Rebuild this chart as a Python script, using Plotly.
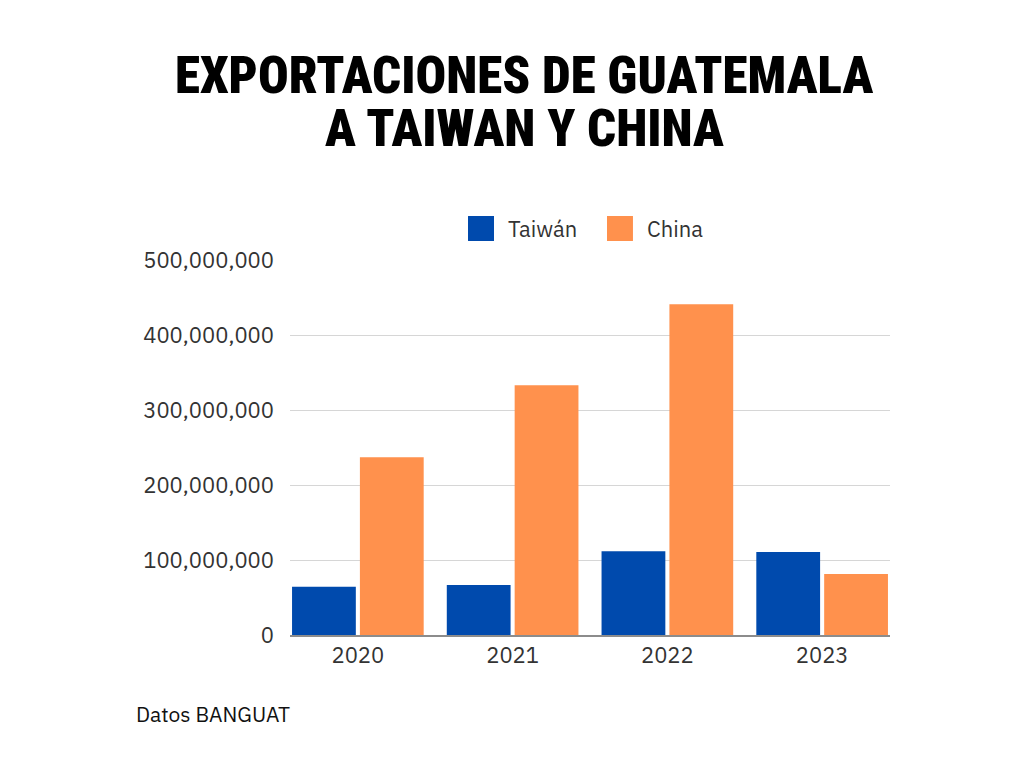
import plotly.graph_objects as go

# Exportaciones de Guatemala (USD)
years = ["2020", "2021", "2022", "2023"]
series_names = ["Taiwán", "China"]
taiwan = [64_500_000, 66_700_000, 111_600_000, 110_700_000]
china = [236_900_000, 333_000_000, 440_900_000, 81_300_000]
y_ticks = [0, 100_000_000, 200_000_000, 300_000_000, 400_000_000, 500_000_000]
y_tick_labels = ["0", "100,000,000", "200,000,000", "300,000,000", "400,000,000", "500,000,000"]

BLUE = "#004AAD"
ORANGE = "#FF914D"
TEXT_FONT = "IBM Plex Sans, Noto Sans, sans-serif"
TITLE_FONT = "Roboto Condensed, Liberation Sans Narrow, sans-serif"

bargap = 0.123

fig = go.Figure()
fig.add_trace(go.Bar(x=years, y=taiwan, name=series_names[0], marker_color=BLUE, marker_line_width=0))
fig.add_trace(go.Bar(x=years, y=china, name=series_names[1], marker_color=ORANGE, marker_line_width=0))

# la pagina tiene 8px de margen en el body, por eso 1016x760
fig.update_layout(
    width=1016,
    height=760,
    margin=dict(l=282, r=134, t=252, b=133),
    paper_bgcolor="white",
    plot_bgcolor="white",
    barmode="group",
    bargap=bargap,
    bargroupgap=0.06,
    font=dict(family=TEXT_FONT, size=22, color="#333333"),
    showlegend=False,
)

fig.update_xaxes(
    type="category",
    range=[-0.5 + bargap / 2, 3.5 - bargap / 2],
    showgrid=False,
    showline=True,
    linecolor="#8c8c8c",
    linewidth=1.5,
    ticks="",
    tickfont=dict(size=22, color="#333333"),
)

fig.update_yaxes(
    range=[0, 500_000_000],
    tickvals=y_ticks,
    ticktext=y_tick_labels,
    showgrid=True,
    gridcolor="#d6d6d6",
    gridwidth=1,
    zeroline=False,
    showline=False,
    ticks="",
    ticklabelstandoff=15,
    tickfont=dict(size=22, color="#333333"),
)

# Leyenda con cuadros grandes (como en el original)
legend_items = [(series_names[0], BLUE, 0.2967), (series_names[1], ORANGE, 0.5283)]
for name, color, x0 in legend_items:
    fig.add_shape(
        type="rect", xref="paper", yref="paper",
        x0=x0, x1=x0 + 0.0433, y0=1.0507, y1=1.1173,
        fillcolor=color, line_width=0,
    )
    fig.add_annotation(
        text=name, xref="paper", yref="paper", x=x0 + 0.0633, y=1.0827,
        xanchor="left", yanchor="middle", showarrow=False,
        font=dict(size=22, color="#333333"),
    )

# Titulo en dos lineas (alto fijo para que las cajas no se pisen)
for text, y in [("EXPORTACIONES DE GUATEMALA", 1.493), ("A TAIWAN Y CHINA", 1.352)]:
    fig.add_annotation(
        text=text,
        xref="paper", yref="paper", x=0.39, y=y,
        xanchor="center", yanchor="middle", showarrow=False,
        height=50, valign="middle",
        font=dict(family=TITLE_FONT, size=51, color="black", weight=900),
    )

# Fuente
fig.add_annotation(
    text="Datos BANGUAT",
    xref="paper", yref="paper", x=-0.26, y=-0.211,
    xanchor="left", yanchor="middle", showarrow=False,
    font=dict(family=TEXT_FONT, size=21, color="#111111"),
)

fig.write_html("out.html")
